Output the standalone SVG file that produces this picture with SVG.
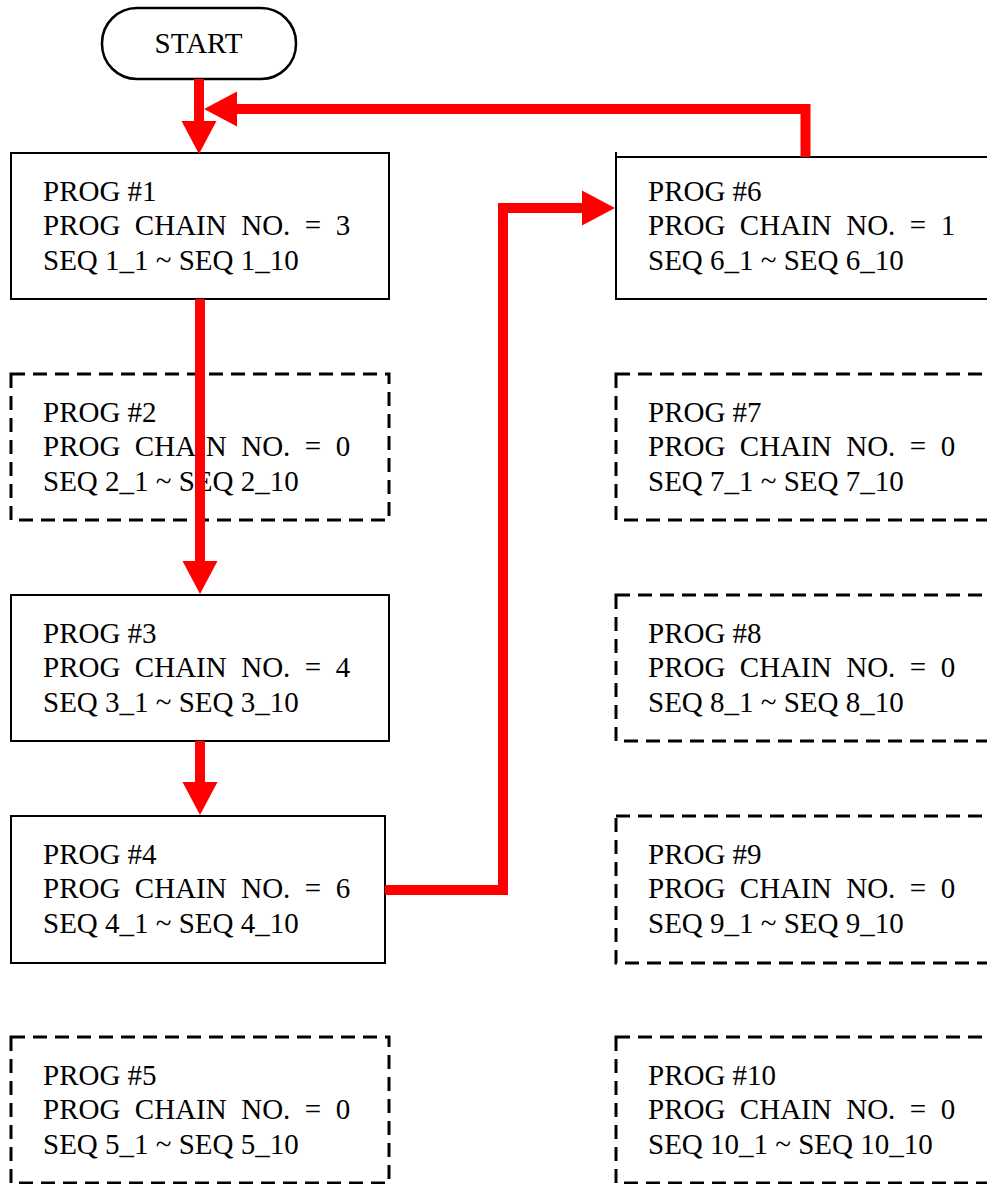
<svg xmlns="http://www.w3.org/2000/svg" width="987" height="1184" viewBox="0 0 987 1184">
<style>
.t{font-family:"Liberation Serif","Times New Roman",serif;font-size:29px;fill:#000;white-space:pre}
.solid{fill:#fff;stroke:#000;stroke-width:2}
.dash{fill:#fff;stroke:#000;stroke-width:3;stroke-dasharray:14 8}
.conn{fill:none;stroke:#ff0000;stroke-width:10;stroke-linejoin:miter;stroke-linecap:butt}
</style>
<defs>
<marker id="ah" markerUnits="userSpaceOnUse" markerWidth="40" markerHeight="40" viewBox="-2 -20 40 40" refX="1" refY="0" orient="auto">
<path d="M0,-17.5 L33,0 L0,17.5 Z" fill="#ff0000"/>
</marker>
</defs>
<rect width="987" height="1184" fill="#fff"/>
<g id="start">
<rect x="102" y="8" width="194" height="71" rx="35" ry="35" fill="#fff" stroke="#000" stroke-width="2.5"/>
<text class="t" x="198.5" y="53" text-anchor="middle">START</text>
</g>
<g id="prog1">
<rect class="solid" x="11" y="153" width="378" height="146"/>
<text class="t" x="43" y="201">PROG #1</text>
<text class="t" x="43" y="235" xml:space="preserve">PROG  CHAIN  NO.  =  3</text>
<text class="t" x="43" y="270">SEQ 1_1 ~ SEQ 1_10</text>
</g>
<g id="prog2">
<rect class="dash" x="11" y="374" width="378" height="146"/>
<text class="t" x="43" y="422">PROG #2</text>
<text class="t" x="43" y="456" xml:space="preserve">PROG  CHAIN  NO.  =  0</text>
<text class="t" x="43" y="491">SEQ 2_1 ~ SEQ 2_10</text>
</g>
<g id="prog3">
<rect class="solid" x="11" y="595" width="378" height="146"/>
<text class="t" x="43" y="643">PROG #3</text>
<text class="t" x="43" y="677" xml:space="preserve">PROG  CHAIN  NO.  =  4</text>
<text class="t" x="43" y="712">SEQ 3_1 ~ SEQ 3_10</text>
</g>
<g id="prog4">
<rect class="solid" x="11" y="816" width="374" height="147"/>
<text class="t" x="43" y="864">PROG #4</text>
<text class="t" x="43" y="898" xml:space="preserve">PROG  CHAIN  NO.  =  6</text>
<text class="t" x="43" y="933">SEQ 4_1 ~ SEQ 4_10</text>
</g>
<g id="prog5">
<rect class="dash" x="11" y="1037" width="378" height="146"/>
<text class="t" x="43" y="1085">PROG #5</text>
<text class="t" x="43" y="1119" xml:space="preserve">PROG  CHAIN  NO.  =  0</text>
<text class="t" x="43" y="1154">SEQ 5_1 ~ SEQ 5_10</text>
</g>
<g id="prog6">
<rect class="solid" x="616" y="157" width="400" height="142"/>
<path d="M616,152 V158" stroke="#000" stroke-width="2" fill="none"/>
<text class="t" x="648" y="201">PROG #6</text>
<text class="t" x="648" y="235" xml:space="preserve">PROG  CHAIN  NO.  =  1</text>
<text class="t" x="648" y="270">SEQ 6_1 ~ SEQ 6_10</text>
</g>
<g id="prog7">
<rect class="dash" x="616" y="374" width="400" height="146"/>
<text class="t" x="648" y="422">PROG #7</text>
<text class="t" x="648" y="456" xml:space="preserve">PROG  CHAIN  NO.  =  0</text>
<text class="t" x="648" y="491">SEQ 7_1 ~ SEQ 7_10</text>
</g>
<g id="prog8">
<rect class="dash" x="616" y="595" width="400" height="146"/>
<text class="t" x="648" y="643">PROG #8</text>
<text class="t" x="648" y="677" xml:space="preserve">PROG  CHAIN  NO.  =  0</text>
<text class="t" x="648" y="712">SEQ 8_1 ~ SEQ 8_10</text>
</g>
<g id="prog9">
<rect class="dash" x="616" y="816" width="400" height="147"/>
<text class="t" x="648" y="864">PROG #9</text>
<text class="t" x="648" y="898" xml:space="preserve">PROG  CHAIN  NO.  =  0</text>
<text class="t" x="648" y="933">SEQ 9_1 ~ SEQ 9_10</text>
</g>
<g id="prog10">
<rect class="dash" x="616" y="1037" width="400" height="146"/>
<text class="t" x="648" y="1085">PROG #10</text>
<text class="t" x="648" y="1119" xml:space="preserve">PROG  CHAIN  NO.  =  0</text>
<text class="t" x="648" y="1154">SEQ 10_1 ~ SEQ 10_10</text>
</g>
<g id="connectors">
<path class="conn" d="M199,79 V122" marker-end="url(#ah)"/>
<path class="conn" d="M805.5,157 V109 H236" marker-end="url(#ah)"/>
<path class="conn" d="M200,299 V562" marker-end="url(#ah)"/>
<path class="conn" d="M200,741 V783" marker-end="url(#ah)"/>
<path class="conn" d="M385,890 H503 V208 H583" marker-end="url(#ah)"/>
</g>
</svg>
